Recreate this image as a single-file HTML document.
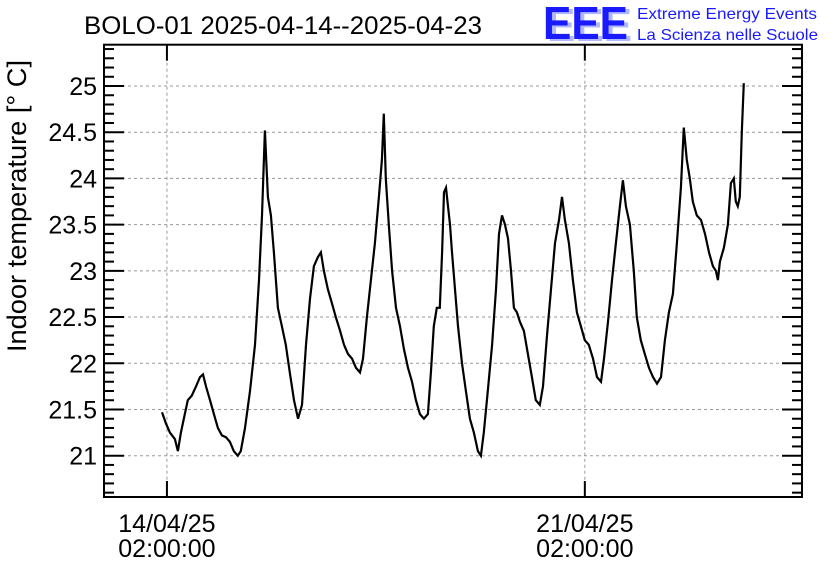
<!DOCTYPE html>
<html><head><meta charset="utf-8"><style>
body{margin:0;background:#fff;}
svg text{font-family:"Liberation Sans",sans-serif;}
</style></head><body>
<svg id="chart" width="836" height="572" xmlns="http://www.w3.org/2000/svg">
<rect width="836" height="572" fill="#fff"/>
<text x="84" y="34" font-size="25" textLength="398" lengthAdjust="spacingAndGlyphs">BOLO-01 2025-04-14--2025-04-23</text>
<g>
<text x="545" y="40" font-size="46" font-weight="bold" fill="#b0b8ff" textLength="85" lengthAdjust="spacingAndGlyphs" transform="translate(2,1)">EEE</text>
<text x="543" y="39" font-size="46" font-weight="bold" fill="#1a1aff" textLength="85" lengthAdjust="spacingAndGlyphs">EEE</text>
<text x="637" y="19" font-size="16" fill="#1a1aff" textLength="180" lengthAdjust="spacingAndGlyphs">Extreme Energy Events</text>
<text x="637" y="40" font-size="16" fill="#1a1aff" textLength="181" lengthAdjust="spacingAndGlyphs">La Scienza nelle Scuole</text>
</g>
<text transform="translate(26,206) rotate(-90)" text-anchor="middle" font-size="27" textLength="292" lengthAdjust="spacingAndGlyphs">Indoor temperature [° C]</text>
<g id="grid"></g><g id="axes"></g><g id="series"></g>
<rect x="104" y="44.7" width="698" height="452.3" fill="none" stroke="#000" stroke-width="2"/>
</svg>
<script>
const hours=[-2.0,-0.4,1.2,3.2,4.4,5.6,7.2,8.4,10.0,11.7,13.3,14.5,15.7,17.3,18.9,20.5,22.1,23.7,25.3,26.9,28.5,29.7,31.4,33.4,35.4,37.0,38.2,39.4,40.6,41.8,43.0,44.6,46.2,47.8,49.4,51.1,52.7,54.3,55.9,57.5,59.1,60.7,61.9,63.1,64.7,66.3,67.9,69.6,71.2,72.8,74.4,76.0,77.6,78.8,80.4,82.0,83.6,85.2,86.4,87.2,88.0,89.2,90.5,92.1,93.7,95.3,96.9,98.5,100.1,101.7,103.3,104.9,106.1,107.3,108.5,109.7,110.6,111.4,112.2,113.0,113.8,114.6,115.8,117.0,118.6,120.2,121.8,123.4,125.0,126.2,127.4,129.0,130.7,132.3,133.5,134.7,135.9,137.1,138.3,139.5,140.7,141.9,143.5,145.1,146.7,148.3,149.9,151.2,152.8,154.4,156.0,157.6,158.8,160.0,161.6,163.2,164.8,166.4,168.0,169.6,171.3,172.9,174.5,175.7,177.3,178.9,180.5,182.1,183.3,184.5,186.1,187.7,188.9,190.5,192.1,193.8,195.4,197.0,198.6,200.2,201.8,203.4,205.0,206.6,207.8,209.0,210.2,211.4,213.0,214.7,216.3,217.9,219.5,220.7,221.5,222.3,223.9,225.5,226.7,227.9,228.7,229.5,230.3,231.1,231.9];
const temps=[21.47,21.35,21.25,21.18,21.05,21.25,21.45,21.6,21.65,21.75,21.85,21.88,21.75,21.6,21.45,21.3,21.22,21.2,21.15,21.05,21.0,21.05,21.3,21.7,22.2,22.9,23.6,24.52,23.8,23.6,23.2,22.6,22.4,22.2,21.9,21.6,21.4,21.55,22.2,22.7,23.05,23.15,23.2,23.0,22.8,22.65,22.5,22.35,22.2,22.1,22.05,21.95,21.9,22.05,22.5,22.9,23.3,23.8,24.2,24.7,24.0,23.5,23.0,22.6,22.4,22.15,21.95,21.8,21.6,21.45,21.4,21.45,21.9,22.4,22.6,22.6,23.2,23.85,23.9,23.7,23.5,23.2,22.8,22.4,22.0,21.7,21.4,21.25,21.05,21.0,21.25,21.7,22.2,22.8,23.4,23.6,23.5,23.35,23.0,22.6,22.55,22.45,22.35,22.1,21.85,21.6,21.55,21.75,22.3,22.8,23.3,23.55,23.8,23.55,23.3,22.9,22.55,22.4,22.25,22.2,22.05,21.85,21.8,22.05,22.45,22.9,23.3,23.7,23.98,23.7,23.5,23.0,22.5,22.25,22.1,21.95,21.85,21.78,21.85,22.25,22.55,22.75,23.3,23.9,24.55,24.2,24.0,23.75,23.6,23.55,23.4,23.2,23.05,23.0,22.9,23.1,23.25,23.5,23.95,24.0,23.75,23.7,23.8,24.5,25.03];
const yTicks=[21,21.5,22,22.5,23,23.5,24,24.5,25];
const yTickLabels=["21","21.5","22","22.5","23","23.5","24","24.5","25"];
const xTicks=[0,168];
const xTickLabels=[["14/04/25","02:00:00"],["21/04/25","02:00:00"]];
const L=104,R=802,T=44.7,B=497;
const hMin=-25.3,hMax=255.3,yMin=20.553,yMax=25.447;
const X=h=>L+(h-hMin)/(hMax-hMin)*(R-L);
const Y=v=>B-(v-yMin)/(yMax-yMin)*(B-T);
const NS="http://www.w3.org/2000/svg";
function mk(tag,attrs,parent){const e=document.createElementNS(NS,tag);for(const k in attrs)e.setAttribute(k,attrs[k]);parent.appendChild(e);return e;}
const grid=document.getElementById('grid'),axes=document.getElementById('axes'),series=document.getElementById('series');
yTicks.forEach((v,i)=>{
  const g=mk('line',{x1:L,x2:R,y1:Y(v),y2:Y(v),stroke:'#999','stroke-dasharray':'3,3','stroke-width':1},grid);
  
  
  const t=mk('text',{x:97,y:Y(v)+9,'text-anchor':'end','font-size':25},axes);
  t.textContent=yTickLabels[i];
  
  
});
for(let k=206;k<=254;k++){
  const v=k/10; if(v<yMin||v>yMax) continue;
  const major=(k%5===0);
  const len=major?20:10;
  const a=mk('line',{x1:L,x2:L+len,y1:Y(v),y2:Y(v),stroke:'#000','stroke-width':2},axes);
  
  
  const b=mk('line',{x1:R,x2:R-len,y1:Y(v),y2:Y(v),stroke:'#000','stroke-width':2},axes);
  
  
}
xTicks.forEach((h,i)=>{
  const x=X(h);
  const g=mk('line',{x1:x,x2:x,y1:T,y2:B,stroke:'#999','stroke-dasharray':'3,3','stroke-width':1},grid);
  
  
  const a=mk('line',{x1:x,x2:x,y1:B,y2:B-16,stroke:'#000','stroke-width':2},axes);
  
  
  const b=mk('line',{x1:x,x2:x,y1:T,y2:T+16,stroke:'#000','stroke-width':2},axes);
  
  
  xTickLabels[i].forEach((s,j)=>{
    const t=mk('text',{x:x,y:532+j*25,'text-anchor':'middle','font-size':25},axes);
    t.textContent=s;
    
    
  });
});
const d=hours.map((h,i)=>(i?'L':'M')+X(h).toFixed(1)+','+Y(temps[i]).toFixed(1)).join('');
const p=mk('path',{d:d,fill:'none',stroke:'#000','stroke-width':2.2,'stroke-linejoin':'miter'},series);


</script>
</body></html>
